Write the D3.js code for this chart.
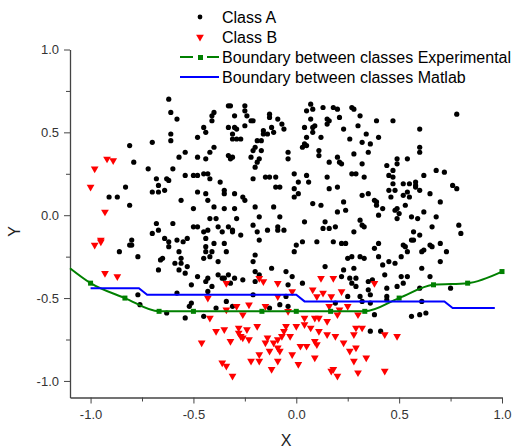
<!DOCTYPE html>
<html>
<head>
<meta charset="utf-8">
<script src="https://cdn.jsdelivr.net/npm/d3@7"></script>
<style>
  body { margin: 0; background: #fff; }
  svg { font-family: "Liberation Sans", Arial, sans-serif; }
</style>
</head>
<body>
<script>
// Class A points (black dots)
const classA = [
  [-0.62,0.70],[-0.61,0.62],[-0.58,0.58],[-0.61,0.49],[-0.61,0.45],[-0.70,0.44],[-0.81,0.42],[-0.79,0.32],[-0.72,0.28],[-0.60,0.28],
  [-0.57,0.35],[-0.54,0.38],[-0.48,0.47],[-0.44,0.50],[-0.45,0.53],[-0.41,0.57],[-0.41,0.60],[-0.40,0.62],[-0.33,0.66],[-0.32,0.66],
  [-0.25,0.66],[-0.25,0.63],[-0.24,0.60],[-0.30,0.60],[-0.33,0.53],[-0.30,0.53],[-0.29,0.52],[-0.31,0.49],[-0.31,0.46],[-0.29,0.46],
  [-0.27,0.46],[-0.25,0.54],[-0.22,0.57],[-0.21,0.57],[-0.16,0.51],[-0.16,0.49],[-0.14,0.49],[-0.13,0.61],[-0.13,0.59],[-0.09,0.58],
  [-0.07,0.55],[-0.12,0.53],[-0.11,0.50],[-0.06,0.52],[-0.19,0.45],[-0.17,0.45],[-0.20,0.41],[-0.21,0.39],[-0.17,0.39],[-0.22,0.35],
  [-0.18,0.34],[-0.19,0.32],[-0.20,0.29],[-0.04,0.38],[-0.04,0.34],[-0.48,0.35],[-0.44,0.34],[-0.42,0.38],[-0.40,0.41],[-0.33,0.36],
  [-0.32,0.34],[-0.31,0.35],[-0.45,0.25],[-0.43,0.25],[-0.42,0.22],[-0.50,0.24],[-0.48,0.24],[-0.54,0.24],[-0.63,0.22],[-0.62,0.21],
  [-0.68,0.22],[-0.67,0.18],[-0.70,0.14],[-0.67,0.14],[-0.64,0.15],[-0.83,0.17],[-0.87,0.11],[-0.91,0.11],[-0.81,0.06],[-0.56,0.09],
  [-0.48,0.14],[-0.44,0.13],[-0.43,0.09],[-0.37,0.20],[-0.35,0.15],[-0.35,0.13],[-0.30,0.13],[-0.26,0.11],[-0.25,0.09],[-0.21,0.22],
  [-0.15,0.23],[-0.13,0.23],[-0.10,0.23],[-0.10,0.17],[-0.08,0.17],[-0.50,0.04],[-0.40,0.05],[-0.35,0.04],[-0.30,0.04],[-0.20,0.05],
  [-0.11,0.05],[-0.42,-0.02],[-0.39,-0.02],[-0.29,-0.02],[-0.18,-0.01],[-0.08,-0.01],[-0.68,-0.05],[-0.60,-0.05],[-0.67,-0.09],[-0.70,-0.11],
  [-0.50,-0.07],[-0.48,-0.07],[-0.45,-0.10],[-0.43,-0.09],[-0.38,-0.07],[-0.36,-0.10],[-0.33,-0.07],[-0.31,-0.09],[-0.31,-0.10],[-0.27,-0.12],
  [-0.21,-0.06],[-0.19,-0.10],[-0.14,-0.09],[-0.09,-0.07],[-0.09,-0.09],[-0.06,-0.09],[-0.80,-0.15],[-0.81,-0.18],[-0.80,-0.18],[-0.64,-0.14],
  [-0.62,-0.16],[-0.62,-0.19],[-0.58,-0.15],[-0.55,-0.16],[-0.53,-0.14],[-0.44,-0.14],[-0.44,-0.19],[-0.40,-0.17],[-0.35,-0.17],[-0.18,-0.15],
  [0.07,0.67],[0.05,0.63],[0.08,0.64],[0.13,0.65],[0.18,0.65],[0.20,0.64],[0.27,0.65],[0.28,0.64],[0.31,0.60],[0.21,0.59],
  [0.15,0.58],[0.16,0.57],[0.15,0.55],[0.07,0.58],[0.09,0.54],[0.08,0.53],[0.04,0.53],[0.08,0.50],[0.05,0.47],[0.12,0.47],
  [0.04,0.43],[0.05,0.42],[0.03,0.41],[0.11,0.39],[0.11,0.36],[0.23,0.52],[0.30,0.54],[0.34,0.49],[0.26,0.46],[0.32,0.44],
  [0.36,0.43],[0.35,0.38],[0.39,0.57],[0.47,0.57],[0.40,0.47],[0.28,0.37],[0.20,0.35],[0.21,0.32],[0.22,0.31],[0.16,0.32],
  [0.32,0.31],[0.60,0.52],[0.60,0.41],[0.60,0.38],[0.78,0.61],[0.54,0.34],[0.49,0.34],[0.49,0.31],[0.44,0.30],[0.47,0.27],
  [0.45,0.24],[0.47,0.23],[0.47,0.19],[0.45,0.15],[0.48,0.15],[0.46,0.11],[0.52,0.19],[0.55,0.19],[0.58,0.20],[0.58,0.18],
  [0.58,0.17],[0.60,0.15],[0.62,0.24],[0.68,0.27],[0.72,0.26],[0.76,0.18],[0.78,0.16],[0.65,0.13],[0.70,0.08],[0.54,0.14],
  [0.55,0.11],[0.52,0.12],[0.53,0.06],[-0.01,0.25],[0.05,0.24],[0.01,0.20],[0.06,0.20],[-0.01,0.16],[0.01,0.13],[-0.01,0.11],
  [0.15,0.23],[0.16,0.16],[0.20,0.17],[0.27,0.25],[0.29,0.25],[0.33,0.23],[0.35,0.13],[0.32,0.12],[0.38,0.09],[0.39,0.08],
  [0.39,0.06],[0.42,0.04],[0.40,0.00],[0.23,0.08],[0.20,0.02],[0.24,0.03],[0.08,0.07],[0.12,0.06],[0.48,0.03],[0.49,0.04],
  [0.50,0.01],[0.49,-0.02],[0.56,-0.01],[0.59,-0.02],[0.62,0.02],[0.68,-0.01],[0.66,-0.07],[0.79,-0.06],[0.80,-0.11],[0.04,-0.04],
  [0.14,-0.04],[0.13,-0.08],[0.16,-0.08],[0.19,-0.07],[0.31,-0.03],[0.32,-0.06],[0.33,-0.07],[0.28,-0.10],[0.57,-0.10],[0.60,-0.12],
  [0.00,-0.18],[0.03,-0.16],[0.10,-0.16],[0.18,-0.16],[0.22,-0.17],[0.24,-0.17],[0.38,-0.20],[0.40,-0.17],[0.52,-0.18],[0.53,-0.19],
  [0.56,-0.15],[0.57,-0.15],[0.65,-0.18],[0.66,-0.19],[0.70,-0.17],
  [-0.86,-0.22],[-0.77,-0.25],[-0.57,-0.22],[-0.56,-0.26],[-0.59,-0.29],[-0.56,-0.29],[-0.53,-0.31],[-0.57,-0.33],[-0.54,-0.35],[-0.66,-0.27],
  [-0.65,-0.26],[-0.67,-0.33],[-0.44,-0.22],[-0.41,-0.22],[-0.45,-0.26],[-0.42,-0.25],[-0.38,-0.28],[-0.34,-0.22],[-0.48,-0.37],[-0.43,-0.38],
  [-0.44,-0.40],[-0.41,-0.43],[-0.43,-0.46],[-0.51,-0.42],[-0.38,-0.36],[-0.36,-0.38],[-0.35,-0.38],[-0.33,-0.36],[-0.30,-0.38],[-0.32,-0.41],
  [-0.26,-0.39],[-0.20,-0.24],[-0.21,-0.28],[-0.20,-0.34],[-0.18,-0.36],[-0.20,-0.40],[-0.12,-0.32],[-0.04,-0.42],[-0.21,-0.48],[-0.77,-0.48],
  [-0.58,-0.47],[-0.76,-0.54],[-0.63,-0.59],[-0.54,-0.62],[-0.52,-0.55],[-0.51,-0.53],[-0.45,-0.61],[-0.39,-0.56],[-0.34,-0.52],[-0.31,-0.55],
  [-0.13,-0.56],[-0.08,-0.54],[-0.04,-0.55],
  [-0.01,-0.22],[0.54,-0.22],[0.61,-0.22],[0.62,-0.21],[0.73,-0.22],[0.25,-0.26],[0.27,-0.25],[0.31,-0.25],[0.33,-0.26],[0.40,-0.25],
  [0.45,-0.28],[0.42,-0.30],[0.48,-0.29],[0.51,-0.25],[0.70,-0.28],[0.61,-0.32],[0.14,-0.31],[0.23,-0.33],[0.28,-0.32],[-0.02,-0.37],
  [0.03,-0.41],[0.22,-0.37],[0.26,-0.38],[0.29,-0.38],[0.27,-0.41],[0.29,-0.43],[0.35,-0.40],[0.37,-0.39],[0.43,-0.36],[0.51,-0.37],
  [0.54,-0.37],[0.52,-0.41],[0.49,-0.43],[0.44,-0.44],[0.35,-0.45],[0.36,-0.48],[0.25,-0.49],[0.31,-0.49],[0.19,-0.53],[0.32,-0.52],
  [0.36,-0.53],[0.44,-0.49],[0.44,-0.51],[0.60,-0.44],[0.65,-0.37],[0.75,-0.44],[0.61,-0.52],[0.56,-0.61],[0.60,-0.60],[0.63,-0.59],
  [0.38,-0.60],[0.36,-0.70],[0.41,-0.70],[-0.05,-0.34],[-0.05,-0.49]
];

// Class B points (red triangles)
const classB = [
  [-0.92,0.34],[-0.89,0.33],[-0.98,0.28],[-1.00,0.17],[-0.93,0.02],[-0.95,-0.15],[-0.95,-0.16],[-0.98,-0.18],
  [-0.93,-0.35],[-0.87,-0.37],[-0.43,-0.50],[-0.34,-0.41],[-0.18,-0.38],[-0.16,-0.40],[-0.09,-0.41],[-0.09,-0.49],[-0.29,-0.55],[-0.23,-0.54],
  [-0.15,-0.55],[-0.34,-0.57],[-0.26,-0.60],[-0.42,-0.62],[-0.19,-0.67],[-0.39,-0.70],[-0.35,-0.69],[-0.28,-0.68],[-0.28,-0.71],[-0.24,-0.69],
  [-0.27,-0.73],[-0.26,-0.74],[-0.23,-0.75],[-0.32,-0.76],[-0.46,-0.77],[-0.14,-0.74],[-0.15,-0.77],[-0.11,-0.77],[-0.09,-0.80],[-0.08,-0.82],
  [-0.13,-0.82],[-0.07,-0.73],[-0.06,-0.70],[-0.05,-0.67],[-0.09,-0.75],[-0.18,-0.84],[-0.18,-0.88],[-0.22,-0.88],[-0.09,-0.88],[-0.36,-0.89],
  [-0.34,-0.91],[-0.31,-0.97],[-0.12,-0.93],
  [0.12,-0.38],[0.18,-0.38],[0.38,-0.41],[-0.02,-0.46],[0.08,-0.45],[0.13,-0.47],[0.10,-0.49],[0.17,-0.49],[0.22,-0.46],[0.16,-0.55],
  [0.25,-0.55],[0.21,-0.57],[-0.04,-0.58],[0.20,-0.60],[0.30,-0.60],[0.04,-0.62],[0.09,-0.62],[0.11,-0.62],[0.15,-0.64],[0.00,-0.67],
  [0.04,-0.66],[0.07,-0.68],[-0.03,-0.73],[0.11,-0.70],[0.15,-0.72],[0.19,-0.73],[0.29,-0.68],[0.32,-0.68],[0.28,-0.72],[0.43,-0.72],
  [0.49,-0.73],[0.09,-0.76],[0.10,-0.78],[0.05,-0.79],[0.02,-0.79],[0.23,-0.77],[0.29,-0.80],[0.26,-0.82],[-0.02,-0.84],[0.34,-0.86],
  [0.09,-0.86],[0.28,-0.88],[0.01,-0.90],[0.18,-0.93],[0.17,-0.94],[0.20,-0.97],[0.30,-0.95],[0.43,-0.94]
];

// Boundary between classes, Experimental (points with square markers)
const expX = [-1.0, -0.833, -0.667, -0.5, -0.167, 0.0, 0.167, 0.333, 0.5, 0.667, 0.833, 1.0];
const expY = [-0.41, -0.50, -0.58, -0.58, -0.58, -0.58, -0.58, -0.58, -0.50, -0.42, -0.41, -0.34];
// fitted curve starts at the left edge of the axis
const expStart = [-1.1, -0.32];

// Boundary between classes, Matlab (step line)
const matX = [-1.0, -0.765, -0.725, 0.0, 0.04, 0.72, 0.76, 0.965];
const matY = [-0.44, -0.44, -0.48, -0.48, -0.52, -0.52, -0.56, -0.56];

const majorTicks = [-1.0, -0.5, 0.0, 0.5, 1.0];
const minorTicks = [-0.75, -0.25, 0.25, 0.75];

const legendLabels = ["Class A", "Class B", "Boundary between classes Experimental", "Boundary between classes Matlab"];

const W = 514, H = 448;
const green = "#008000", blue = "#0000ff", red = "#ff0000";
const axisColor = "#444";

const svg = d3.select("body").append("svg")
  .attr("width", W)
  .attr("height", H);

const x = d3.scaleLinear().domain([-1.1, 1.0]).range([70, 502]);
const y = d3.scaleLinear().domain([-1.1, 1.0]).range([397.5, 49.5]);

// Axes
const fmt = d => d.toFixed(1);
const xAxis = svg.append("g")
  .attr("transform", `translate(0,${y(-1.1)})`)
  .call(d3.axisBottom(x).tickValues(majorTicks).tickSize(6).tickSizeOuter(0).tickFormat(fmt).tickPadding(6));
xAxis.append("g").selectAll("line")
  .data(minorTicks)
  .join("line")
  .attr("x1", d => x(d) + 0.5).attr("x2", d => x(d) + 0.5)
  .attr("y1", 0).attr("y2", 4);

const yAxis = svg.append("g")
  .attr("transform", `translate(${x(-1.1)},0)`)
  .call(d3.axisLeft(y).tickValues(majorTicks).tickSize(6).tickSizeOuter(0).tickFormat(fmt).tickPadding(5));
yAxis.append("g").selectAll("line")
  .data(minorTicks)
  .join("line")
  .attr("y1", d => y(d) + 0.5).attr("y2", d => y(d) + 0.5)
  .attr("x1", 0).attr("x2", -4);

svg.selectAll(".domain").attr("stroke", axisColor).attr("stroke-width", 1.3);
svg.selectAll("line").attr("stroke", axisColor);
svg.selectAll(".tick text")
  .attr("font-size", 13)
  .attr("fill", "#333")
  .attr("font-family", "Liberation Sans, Arial, sans-serif");

// Axis titles
svg.append("text")
  .attr("x", (x(-1.1) + x(1.0)) / 2)
  .attr("y", 446)
  .attr("text-anchor", "middle")
  .attr("font-size", 16)
  .attr("fill", "#222")
  .text("X");
svg.append("text")
  .attr("transform", `translate(20,${y(-0.05) + 8}) rotate(-90)`)
  .attr("text-anchor", "middle")
  .attr("font-size", 16)
  .attr("fill", "#222")
  .text("Y");

// Scatter: class A
svg.append("g").selectAll("circle")
  .data(classA)
  .join("circle")
  .attr("cx", d => x(d[0]))
  .attr("cy", d => y(d[1]))
  .attr("r", 2.6)
  .attr("fill", "#000");

// Scatter: class B (down triangles)
const tri = d3.symbol().type(d3.symbolTriangle).size(26);
svg.append("g").selectAll("path")
  .data(classB)
  .join("path")
  .attr("d", tri)
  .attr("transform", d => `translate(${x(d[0])},${y(d[1])}) rotate(180)`)
  .attr("fill", red);

// Experimental boundary
const expPts = [expStart].concat(expX.map((v, i) => [v, expY[i]]));
svg.append("path")
  .datum(expPts)
  .attr("fill", "none")
  .attr("stroke", green)
  .attr("stroke-width", 2)
  .attr("d", d3.line().curve(d3.curveMonotoneX).x(d => x(d[0])).y(d => y(d[1])));
svg.append("g").selectAll("rect")
  .data(expX.map((v, i) => [v, expY[i]]))
  .join("rect")
  .attr("x", d => x(d[0]) - 2.5)
  .attr("y", d => y(d[1]) - 2.5)
  .attr("width", 5)
  .attr("height", 5)
  .attr("fill", green);

// Matlab boundary
svg.append("path")
  .datum(matX.map((v, i) => [v, matY[i]]))
  .attr("fill", "none")
  .attr("stroke", blue)
  .attr("stroke-width", 2)
  .attr("d", d3.line().x(d => x(d[0])).y(d => y(d[1])));

// Legend
const lg = svg.append("g").attr("font-size", 16).attr("fill", "#000");
legendLabels.forEach((t, i) => {
  const cy = 17 + i * 20;
  lg.append("text").attr("x", 222).attr("y", cy + 5.5).text(t);
});
lg.append("circle").attr("cx", 200).attr("cy", 17).attr("r", 2.4).attr("fill", "#000");
lg.append("path").attr("d", tri).attr("transform", "translate(200,37) rotate(180)").attr("fill", red);
lg.append("line").attr("x1", 180).attr("x2", 193).attr("y1", 57).attr("y2", 57).attr("stroke", green).attr("stroke-width", 2);
lg.append("rect").attr("x", 198).attr("y", 55).attr("width", 5).attr("height", 5).attr("fill", green);
lg.append("line").attr("x1", 207).attr("x2", 219).attr("y1", 57).attr("y2", 57).attr("stroke", green).attr("stroke-width", 2);
lg.append("line").attr("x1", 180).attr("x2", 219).attr("y1", 77).attr("y2", 77).attr("stroke", blue).attr("stroke-width", 2);
</script>
</body>
</html>
